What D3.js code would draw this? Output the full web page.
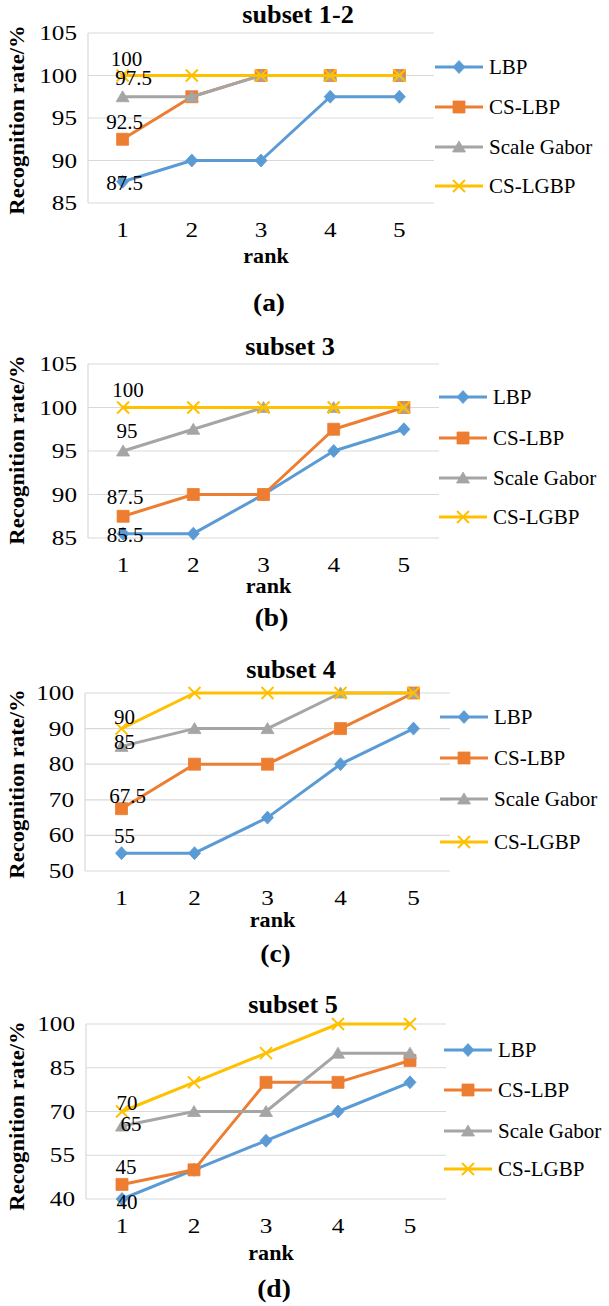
<!DOCTYPE html>
<html>
<head>
<meta charset="utf-8">
<script src="https://cdn.jsdelivr.net/npm/d3@7"></script>
<style>
  body { margin: 0; background: #fff; }
</style>
</head>
<body>
<div id="chart"></div>
<script>
'use strict'

// ---------- data ----------
const ranks = [1, 2, 3, 4, 5]
const seriesNames = ['LBP', 'CS-LBP', 'Scale Gabor', 'CS-LGBP']
const seriesColors = ['#5B9BD5', '#ED7D31', '#A5A5A5', '#FFC000']
const seriesMarkers = ['diamond', 'square', 'triangle', 'x']

const titles = ['subset 1-2', 'subset 3', 'subset 4', 'subset 5']
const captions = ['(a)', '(b)', '(c)', '(d)']

// subset 1-2
const lbpA = [87.5, 90, 90, 97.5, 97.5]
const cslbpA = [92.5, 97.5, 100, 100, 100]
const gaborA = [97.5, 97.5, 100, 100, 100]
const cslgbpA = [100, 100, 100, 100, 100]
const ticksA = [85, 90, 95, 100, 105]

// subset 3
const lbpB = [85.5, 85.5, 90, 95, 97.5]
const cslbpB = [87.5, 90, 90, 97.5, 100]
const gaborB = [95, 97.5, 100, 100, 100]
const cslgbpB = [100, 100, 100, 100, 100]
const ticksB = [85, 90, 95, 100, 105]

// subset 4
const lbpC = [55, 55, 65, 80, 90]
const cslbpC = [67.5, 80, 80, 90, 100]
const gaborC = [85, 90, 90, 100, 100]
const cslgbpC = [90, 100, 100, 100, 100]
const ticksC = [50, 60, 70, 80, 90, 100]

// subset 5
const lbpD = [40, 50, 60, 70, 80]
const cslbpD = [45, 50, 80, 80, 87.5]
const gaborD = [65, 70, 70, 90, 90]
const cslgbpD = [70, 80, 90, 100, 100]
const ticksD = [40, 55, 70, 85, 100]

// ---------- layout (pixels) ----------
const layout = [
  { left: 88, right: 434, top: 33, bottom: 203, titleX: 298, titleY: 23, rankY: 263, capY: 311, yLabelY: 120,
    legX: 435, legY: [67, 107, 147, 186], labelOff: [[2, 1], [2, -17], [11, -19], [4, -17]] },
  { left: 88, right: 439, top: 364, bottom: 538, titleX: 290, titleY: 355, rankY: 593, capY: 626, yLabelY: 450,
    legX: 439, legY: [397, 438, 478, 517], labelOff: [[2, 1], [2, -19], [4, -20], [5, -18]] },
  { left: 85, right: 450, top: 693, bottom: 871, titleX: 291, titleY: 678, rankY: 927, capY: 962, yLabelY: 784,
    legX: 440, legY: [717, 758, 799, 842], labelOff: [[3, -17], [6, -13], [3, -4], [3, -12]] },
  { left: 86, right: 446, top: 1024, bottom: 1199, titleX: 293, titleY: 1013, rankY: 1260, capY: 1297, yLabelY: 1116,
    legX: 444, legY: [1050, 1090, 1131, 1169], labelOff: [[5, 3], [4, -17], [9, -2], [5, -9]] }
]

const panelSeries = [
  [lbpA, cslbpA, gaborA, cslgbpA],
  [lbpB, cslbpB, gaborB, cslgbpB],
  [lbpC, cslbpC, gaborC, cslgbpC],
  [lbpD, cslbpD, gaborD, cslgbpD]
]
const panelTicks = [ticksA, ticksB, ticksC, ticksD]

const svgWidth = 609, svgHeight = 1306

const svg = d3.select('#chart')
  .append('svg')
  .attr('width', svgWidth)
  .attr('height', svgHeight)

// marker shapes
function markerPath(type) {
  if (type === 'diamond') return 'M0,-6.5L6,0L0,6.5L-6,0Z'
  if (type === 'square') return d3.symbol(d3.symbolSquare, 144)()
  if (type === 'triangle') return 'M0,-6L6.5,5L-6.5,5Z'
  return 'M-6,-6L6,6M-6,6L6,-6'
}

function drawMarker(g, type, color, x, y) {
  const isX = type === 'x'
  g.append('path')
    .attr('d', markerPath(type))
    .attr('transform', `translate(${x},${y})`)
    .attr('fill', isX ? 'none' : color)
    .attr('stroke', color)
    .attr('stroke-width', isX ? 2 : 0.8)
}

// text, optionally stretched horizontally like the original
function txt(g, x, y, s, size, opts = {}) {
  const sx = opts.sx || 1
  const rot = opts.rotate ? ' rotate(-90)' : ''
  return g.append('text')
    .attr('transform', `translate(${x},${y})${rot} scale(${sx},1)`)
    .attr('text-anchor', opts.anchor || 'middle')
    .attr('font-family', 'Liberation Serif')
    .attr('font-size', size)
    .attr('font-weight', opts.bold ? 'bold' : 'normal')
    .attr('fill', '#000')
    .text(s)
}

panelSeries.forEach((series, p) => {
  const L = layout[p]
  const ticks = panelTicks[p]
  const g = svg.append('g').attr('class', 'panel')

  const x = d3.scalePoint()
    .domain(ranks)
    .range([L.left, L.right])
    .padding(0.5)

  const y = d3.scaleLinear()
    .domain(d3.extent(ticks))
    .range([L.bottom, L.top])

  // gridlines
  g.selectAll('.grid')
    .data(ticks)
    .join('line')
    .attr('x1', L.left)
    .attr('x2', L.right)
    .attr('y1', d => y(d))
    .attr('y2', d => y(d))
    .attr('stroke', '#D9D9D9')
    .attr('stroke-width', 1.2)

  // vertical axis line
  g.append('line')
    .attr('x1', L.left).attr('x2', L.left)
    .attr('y1', L.top).attr('y2', L.bottom)
    .attr('stroke', '#D9D9D9')
    .attr('stroke-width', 1.2)

  // y tick labels
  ticks.forEach(t => txt(g, L.left - 11, y(t) + 7, t, 21, { anchor: 'end', sx: 1.2 }))

  // x tick labels
  ranks.forEach(r => txt(g, x(r), L.bottom + 34, r, 21, { sx: 1.2 }))

  // titles
  txt(g, L.titleX, L.titleY, titles[p], 25, { bold: true, sx: 1.05 })
  txt(g, (L.left + L.right) / 2 + 5, L.rankY, 'rank', 21, { bold: true, sx: 1.05 })
  txt(g, (L.left + L.right) / 2 + 8, L.capY, captions[p], 25, { bold: true, sx: 1.1 })
  txt(g, 24, L.yLabelY, 'Recognition rate/%', 22, { bold: true, rotate: true, sx: 1.03 })

  const line = d3.line()
    .x((d, i) => x(ranks[i]))
    .y(d => y(d))

  // lines and markers
  series.forEach((vals, s) => {
    g.append('path')
      .datum(vals)
      .attr('d', line)
      .attr('fill', 'none')
      .attr('stroke', seriesColors[s])
      .attr('stroke-width', 3)
      .attr('stroke-linejoin', 'round')
    vals.forEach((v, i) => drawMarker(g, seriesMarkers[s], seriesColors[s], x(ranks[i]), y(v)))
  })

  // data labels on first point
  series.forEach((vals, s) => {
    const off = L.labelOff[s]
    txt(g, x(ranks[0]) + off[0], y(vals[0]) + off[1] + 7, vals[0], 21)
  })

  // legend
  seriesNames.forEach((name, s) => {
    const ly = L.legY[s]
    g.append('line')
      .attr('x1', L.legX).attr('x2', L.legX + 48)
      .attr('y1', ly).attr('y2', ly)
      .attr('stroke', seriesColors[s])
      .attr('stroke-width', 3)
    drawMarker(g, seriesMarkers[s], seriesColors[s], L.legX + 24, ly)
    txt(g, L.legX + 54, ly + 7, name, 21, { anchor: 'start' })
  })
})
</script>
</body>
</html>
